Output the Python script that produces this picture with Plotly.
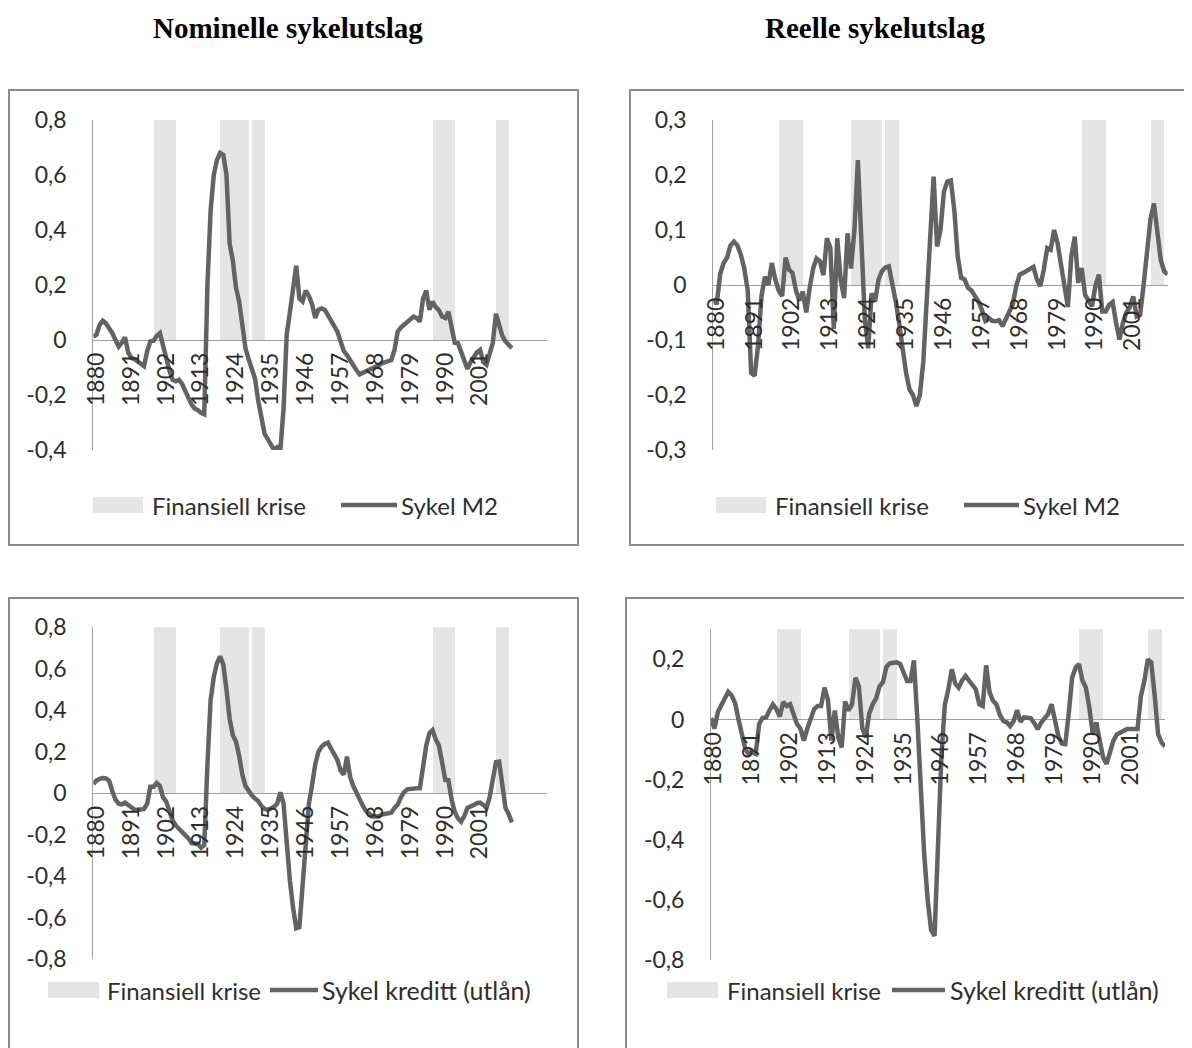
import plotly.graph_objects as go

# ---------------- data ----------------
years = list(range(1880, 2013))

crisis_years = [1899, 1900, 1901, 1902, 1903, 1904, 1905,
                1920, 1921, 1922, 1923, 1924, 1925, 1926, 1927, 1928,
                1930, 1931, 1932, 1933,
                1987, 1988, 1989, 1990, 1991, 1992, 1993,
                2007, 2008, 2009, 2010]

x_tick_years = [1880, 1891, 1902, 1913, 1924, 1935, 1946, 1957, 1968, 1979, 1990, 2001]

nominal_m2 = [
    0.012, 0.02, 0.055, 0.07, 0.06, 0.045, 0.025, 0.0, -0.024, -0.01,
    0.01, -0.045, -0.065, -0.07, -0.078, -0.085, -0.095, -0.04, -0.005, -0.003,
    0.015, 0.025, -0.025, -0.06, -0.11, -0.145, -0.15, -0.145, -0.16, -0.185,
    -0.215, -0.235, -0.25, -0.255, -0.265, -0.27, 0.2, 0.47, 0.6, 0.655,
    0.68, 0.673, 0.6, 0.35, 0.29, 0.19, 0.14, 0.05, -0.03, -0.07,
    -0.1, -0.14, -0.22, -0.28, -0.34, -0.36, -0.38, -0.4, -0.39, -0.4,
    -0.25, 0.02, 0.1, 0.18, 0.27, 0.15, 0.14, 0.18, 0.16, 0.13,
    0.08, 0.11, 0.115, 0.11, 0.09, 0.065, 0.05, 0.03, -0.005, -0.04,
    -0.055, -0.075, -0.095, -0.11, -0.125, -0.12, -0.115, -0.11, -0.105, -0.1,
    -0.092, -0.085, -0.08, -0.077, -0.073, -0.036, 0.03, 0.045, 0.055, 0.065,
    0.08, 0.085, 0.08, 0.067, 0.15, 0.18, 0.11, 0.14, 0.12, 0.108,
    0.085, 0.08, 0.103, 0.04, -0.01, -0.012, -0.04, -0.075, -0.105, -0.08,
    -0.06, -0.045, -0.036, -0.08, -0.09, -0.05, -0.01, 0.095, 0.06, 0.015,
    -0.005, -0.02, -0.03,
]

real_m2 = [
    -0.025, -0.035, 0.02, 0.04, 0.05, 0.072, 0.079, 0.072, 0.055, 0.03,
    -0.01, -0.16, -0.165, -0.11, -0.02, 0.015, 0.0, 0.04, 0.01, -0.01,
    -0.02, 0.05, 0.028, 0.022, -0.01, -0.028, -0.012, -0.05, -0.005, 0.03,
    0.048, 0.043, 0.018, 0.085, 0.068, -0.08, 0.085, 0.01, -0.024, 0.094,
    0.03, 0.1, 0.227, 0.09, -0.06, -0.115, -0.015, -0.03, 0.01, 0.025,
    0.032, 0.034, 0.004, -0.03, -0.07, -0.12, -0.16, -0.19, -0.2, -0.22,
    -0.2, -0.14, -0.02, 0.11, 0.197, 0.07, 0.1, 0.17, 0.188, 0.19,
    0.137, 0.052, 0.013, 0.01, -0.005, -0.01, -0.02, -0.03, -0.045, -0.065,
    -0.06, -0.065, -0.066, -0.064, -0.075, -0.06, -0.045, -0.035, -0.002, 0.019,
    0.022, 0.026, 0.03, 0.033, 0.01, -0.002, 0.028, 0.067, 0.064, 0.1,
    0.076, 0.035, -0.002, -0.04, 0.052, 0.088, 0.004, 0.031, -0.018, -0.028,
    -0.039, -0.002, 0.019, -0.048, -0.048, -0.036, -0.031, -0.069, -0.099, -0.069,
    -0.05, -0.04, -0.021, -0.057, -0.054, 0.0, 0.07, 0.12, 0.148, 0.1,
    0.045, 0.025, 0.019,
]

nominal_credit = [
    0.045, 0.062, 0.07, 0.074, 0.072, 0.06, 0.01, -0.03, -0.05, -0.053,
    -0.045, -0.058, -0.07, -0.078, -0.08, -0.08, -0.075, -0.05, 0.032, 0.032,
    0.05, 0.035, -0.02, -0.04, -0.085, -0.13, -0.155, -0.17, -0.185, -0.2,
    -0.217, -0.24, -0.244, -0.244, -0.262, -0.25, 0.14, 0.45, 0.56, 0.627,
    0.66, 0.62, 0.5, 0.36, 0.28, 0.25, 0.18, 0.09, 0.035, 0.01,
    -0.01, -0.025, -0.037, -0.06, -0.075, -0.08, -0.075, -0.065, -0.05, 0.005,
    -0.05, -0.25, -0.42, -0.55, -0.65, -0.645, -0.45, -0.2, -0.05, 0.04,
    0.14, 0.2, 0.225, 0.238, 0.244, 0.215, 0.185, 0.16, 0.11, 0.09,
    0.177, 0.08, 0.035, 0.0, -0.024, -0.06, -0.085, -0.1, -0.112, -0.112,
    -0.112, -0.102, -0.098, -0.096, -0.094, -0.07, -0.055, -0.02, 0.005, 0.019,
    0.022, 0.024, 0.024, 0.024, 0.12, 0.23, 0.29, 0.305, 0.26, 0.23,
    0.15, 0.065, 0.064, -0.03, -0.09, -0.12, -0.137, -0.11, -0.07, -0.06,
    -0.056, -0.048, -0.045, -0.056, -0.07, -0.02, 0.08, 0.15, 0.153, 0.02,
    -0.07, -0.1, -0.14,
]

real_credit = [
    0.005, -0.03, 0.025, 0.05, 0.07, 0.092, 0.08, 0.055, 0.0, -0.05,
    -0.1, -0.115, -0.11, -0.115, -0.015, 0.005, 0.007, 0.03, 0.05, 0.034,
    0.01, 0.058, 0.045, 0.051, 0.02, -0.015, -0.03, -0.07, -0.03, 0.005,
    0.035, 0.045, 0.045, 0.106, 0.065, -0.07, 0.03, -0.06, -0.093, 0.06,
    0.03, 0.05, 0.139, 0.11, -0.03, -0.06, 0.02, 0.05, 0.07, 0.11,
    0.125, 0.175, 0.187, 0.189, 0.19, 0.185, 0.16, 0.128, 0.128, 0.197,
    0.0, -0.23, -0.45, -0.6, -0.7, -0.72, -0.45, -0.12, 0.05, 0.1,
    0.167, 0.12, 0.106, 0.13, 0.145, 0.13, 0.115, 0.1, 0.051, 0.045,
    0.18, 0.09, 0.062, 0.05, 0.015, -0.005, -0.01, -0.022, -0.005, 0.031,
    -0.008, 0.007, 0.006, 0.004, -0.012, -0.032, -0.01, 0.006, 0.018, 0.051,
    -0.004, -0.055, -0.08, -0.082, 0.018, 0.139, 0.172, 0.184, 0.13, 0.106,
    0.04, -0.049, -0.01, -0.071, -0.126, -0.148, -0.11, -0.07, -0.05, -0.043,
    -0.035, -0.032, -0.032, -0.032, -0.032, 0.078, 0.128, 0.2, 0.19, 0.08,
    -0.049, -0.076, -0.09,
]

yticks_m2_nom = [-0.4, -0.2, 0, 0.2, 0.4, 0.6, 0.8]
yticklabels_m2_nom = ["-0,4", "-0,2", "0", "0,2", "0,4", "0,6", "0,8"]
yticks_m2_real = [-0.3, -0.2, -0.1, 0, 0.1, 0.2, 0.3]
yticklabels_m2_real = ["-0,3", "-0,2", "-0,1", "0", "0,1", "0,2", "0,3"]
yticks_cr_nom = [-0.8, -0.6, -0.4, -0.2, 0, 0.2, 0.4, 0.6, 0.8]
yticklabels_cr_nom = ["-0,8", "-0,6", "-0,4", "-0,2", "0", "0,2", "0,4", "0,6", "0,8"]
yticks_cr_real = [-0.8, -0.6, -0.4, -0.2, 0, 0.2]
yticklabels_cr_real = ["-0,8", "-0,6", "-0,4", "-0,2", "0", "0,2"]

crisis_label = "Finansiell krise"
titles = ["Nominelle sykelutslag", "Reelle sykelutslag"]

# ---------------- styling / layout ----------------
# the page body has an 8px margin, so the figure is 8px smaller and
# all page-pixel positions below are offset by 8px
OFF = 8
W, H = 1192 - OFF, 1048 - OFF
FONT = "Lato"
TXT = "#2e2e2e"
LINE_C = "#636363"
BAND_C = "#e5e5e5"
AXIS_C = "#a0a0a0"
BORDER_C = "#8c8c8c"
TICK_SIZE = 23
LEG_SIZE = 24


def fx(p):
    return (p - OFF) / W


def fy(p):
    return 1 - (p - OFF) / H


panels = [
    dict(vals=nominal_m2, label="Sykel M2", xdom=(93.3, 546.7), ydom=(120, 450),
         yr=(-0.4, 0.8), xr=(1880, 2023), yt=yticks_m2_nom, ytl=yticklabels_m2_nom,
         box=(9, 90, 578, 545), lsize=LEG_SIZE,
         leg=dict(y=505, patch=(93, 143), t1=150, line=(341, 397), t2=399)),
    dict(vals=real_m2, label="Sykel M2", xdom=(713.3, 1167.7), ydom=(120, 450),
         yr=(-0.3, 0.3), xr=(1880, 2012), yt=yticks_m2_real, ytl=yticklabels_m2_real,
         box=(630, 90, 1210, 545), lsize=LEG_SIZE,
         leg=dict(y=505, patch=(716, 766), t1=773, line=(964, 1019), t2=1021)),
    dict(vals=nominal_credit, label="Sykel kreditt (utlån)", xdom=(93.3, 546.7), ydom=(627.3, 959.3),
         yr=(-0.8, 0.8), xr=(1880, 2023), yt=yticks_cr_nom, ytl=yticklabels_cr_nom,
         box=(9, 598, 578, 1070), lsize=25,
         leg=dict(y=990, patch=(48, 99), t1=105, line=(270, 318), t2=320)),
    dict(vals=real_credit, label="Sykel kreditt (utlån)", xdom=(711, 1165), ydom=(629.3, 960),
         yr=(-0.8, 0.3), xr=(1880, 2012), yt=yticks_cr_real, ytl=yticklabels_cr_real,
         box=(626, 598, 1210, 1070), lsize=25,
         leg=dict(y=990, patch=(667, 718), t1=725, line=(892, 945), t2=948)),
]

fig = go.Figure()
shapes = []
annotations = []
layout_axes = {}

for i, p in enumerate(panels, start=1):
    sfx = "" if i == 1 else str(i)
    top = p["yr"][1]
    fig.add_trace(go.Bar(
        x=crisis_years, y=[top] * len(crisis_years), width=1, offset=0.1,
        marker=dict(color=BAND_C, line=dict(width=0)), name=crisis_label,
        xaxis=f"x{sfx}", yaxis=f"y{sfx}", showlegend=False, hoverinfo="skip"))
    fig.add_trace(go.Scatter(
        x=years, y=p["vals"], mode="lines", line=dict(color=LINE_C, width=4.5),
        name=p["label"], xaxis=f"x{sfx}", yaxis=f"y{sfx}", showlegend=False))

    d0, d1 = fy(p["ydom"][1]), fy(p["ydom"][0])
    frac = (0 - p["yr"][0]) / (p["yr"][1] - p["yr"][0])
    zero_pos = d0 + frac * (d1 - d0)

    layout_axes[f"xaxis{sfx}"] = dict(
        domain=[fx(p["xdom"][0]), fx(p["xdom"][1])], range=list(p["xr"]),
        anchor="free", position=zero_pos, tickmode="array",
        tickvals=x_tick_years, ticktext=[str(v) for v in x_tick_years],
        tickangle=-90, showgrid=False, zeroline=False, showline=False, ticks="",
        tickfont=dict(family=FONT, size=TICK_SIZE, color=TXT),
        ticklabelstandoff=7, ticklabelshift=3, fixedrange=True, automargin=False)
    layout_axes[f"yaxis{sfx}"] = dict(
        domain=[d0, d1], range=list(p["yr"]), anchor=f"x{sfx}",
        tickmode="array", tickvals=p["yt"], ticktext=p["ytl"],
        showgrid=False, zeroline=True, zerolinecolor=AXIS_C, zerolinewidth=1,
        showline=True, linecolor=AXIS_C, linewidth=1, ticks="",
        tickfont=dict(family=FONT, size=TICK_SIZE, color=TXT),
        ticklabelstandoff=21, fixedrange=True, automargin=False)

    bx0, by0, bx1, by1 = p["box"]
    shapes.append(dict(type="rect", xref="paper", yref="paper",
                       x0=fx(bx0), x1=fx(bx1), y0=fy(by1), y1=fy(by0),
                       line=dict(color=BORDER_C, width=2), fillcolor="rgba(0,0,0,0)"))
    lg = p["leg"]
    shapes.append(dict(type="rect", xref="paper", yref="paper",
                       x0=fx(lg["patch"][0]), x1=fx(lg["patch"][1]),
                       y0=fy(lg["y"] + 8), y1=fy(lg["y"] - 8),
                       line=dict(width=0), fillcolor=BAND_C))
    shapes.append(dict(type="line", xref="paper", yref="paper",
                       x0=fx(lg["line"][0]), x1=fx(lg["line"][1]),
                       y0=fy(lg["y"]), y1=fy(lg["y"]),
                       line=dict(color=LINE_C, width=4.5)))
    annotations.append(dict(text=crisis_label, xref="paper", yref="paper",
                            x=fx(lg["t1"]), y=fy(lg["y"]), xanchor="left", yanchor="middle",
                            showarrow=False, font=dict(family=FONT, size=LEG_SIZE, color=TXT)))
    annotations.append(dict(text=p["label"], xref="paper", yref="paper",
                            x=fx(lg["t2"]), y=fy(lg["y"]), xanchor="left", yanchor="middle",
                            showarrow=False, font=dict(family=FONT, size=p["lsize"], color=TXT)))

for t, cx in zip(titles, [288, 875]):
    annotations.append(dict(text=f"<b>{t}</b>", xref="paper", yref="paper",
                            x=fx(cx), y=fy(28), xanchor="center", yanchor="middle",
                            showarrow=False,
                            font=dict(family="Liberation Serif", size=29, color="#000000")))

fig.update_layout(
    width=W, height=H, margin=dict(l=0, r=0, t=0, b=0, autoexpand=False),
    paper_bgcolor="white", plot_bgcolor="white",
    showlegend=False, barmode="overlay", bargap=0,
    shapes=shapes, annotations=annotations, **layout_axes)

fig.write_html("out.html")
